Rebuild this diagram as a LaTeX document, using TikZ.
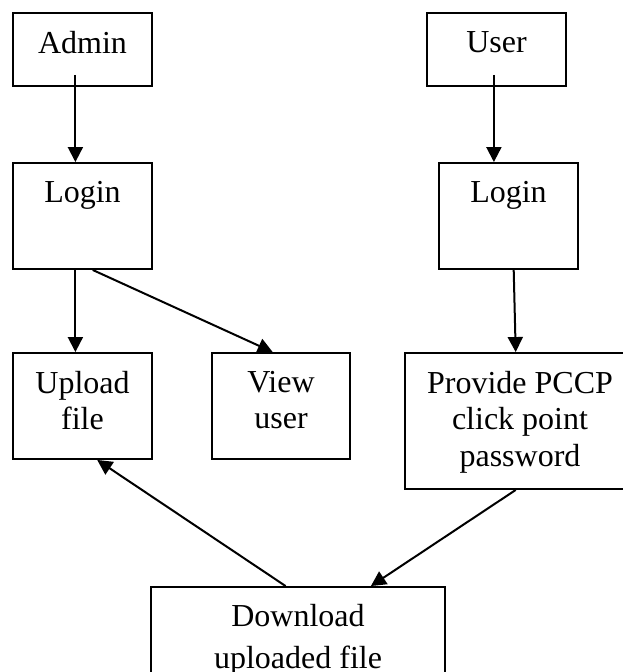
\documentclass[tikz,border=0pt]{standalone}
\usepackage{fontspec}
\setmainfont{Liberation Serif}
\usetikzlibrary{arrows.meta}
\begin{document}
\begin{tikzpicture}[x=1pt,y=-1pt,
  box/.style={draw, line width=1.9pt, inner sep=0pt},
  lbl/.style={anchor=north, yshift=-19pt, inner sep=0pt, align=center,
    font=\fontsize{32}{36.3}\selectfont},
  lblwide/.style={lbl, yshift=1pt, font=\fontsize{32}{42}\selectfont},
  arr/.style={line width=2pt, -{Triangle[length=15pt,width=15pt]}}]
\useasboundingbox (0,0) rectangle (622,672);
\node[box, minimum width=139pt, minimum height=73pt, label={[lbl]north:Admin}] (admin) at (82.5,49.5) {};
\node[box, minimum width=139pt, minimum height=73pt, label={[lbl]north:User}] (user) at (496.5,49.5) {};
\node[box, minimum width=139pt, minimum height=106pt, label={[lbl]north:Login}] (loginA) at (82.5,216) {};
\node[box, minimum width=139pt, minimum height=106pt, label={[lbl]north:Login}] (loginU) at (508.5,216) {};
\node[box, minimum width=139pt, minimum height=106pt, label={[lbl]north:Upload\\file}] (upload) at (82.5,406) {};
\node[box, minimum width=138pt, minimum height=106pt, label={[lbl]north:View\\user}] (view) at (281,406) {};
\node[box, minimum width=230pt, minimum height=136pt, label={[lbl]north:Provide PCCP\\click point\\password}] (provide) at (520,421) {};
\node[box, minimum width=294pt, minimum height=110pt, label={[lblwide]north:Download\\uploaded file}] (download) at (298,642) {};
\draw[arr] ([shift={(-7.1,-12)}]admin.south) -- ([xshift=-7.1pt]loginA.north);
\draw[arr] ([shift={(-2.6,-12)}]user.south) -- ([xshift=-14.6pt]loginU.north);
\draw[arr] ([xshift=-7.1pt]loginA.south) -- ([xshift=-7.1pt]upload.north);
\draw[arr] ([xshift=10.2pt]loginA.south) -- ([xshift=-8.3pt]view.north);
\draw[arr] ([xshift=5.2pt]loginU.south) -- ([xshift=-4.3pt]provide.north);
\draw[arr] ([xshift=-12.4pt]download.north) -- ([xshift=14.7pt]upload.south);
\draw[arr] ([xshift=-4.3pt]provide.south) -- ([xshift=72.9pt]download.north);
\end{tikzpicture}
\end{document}
